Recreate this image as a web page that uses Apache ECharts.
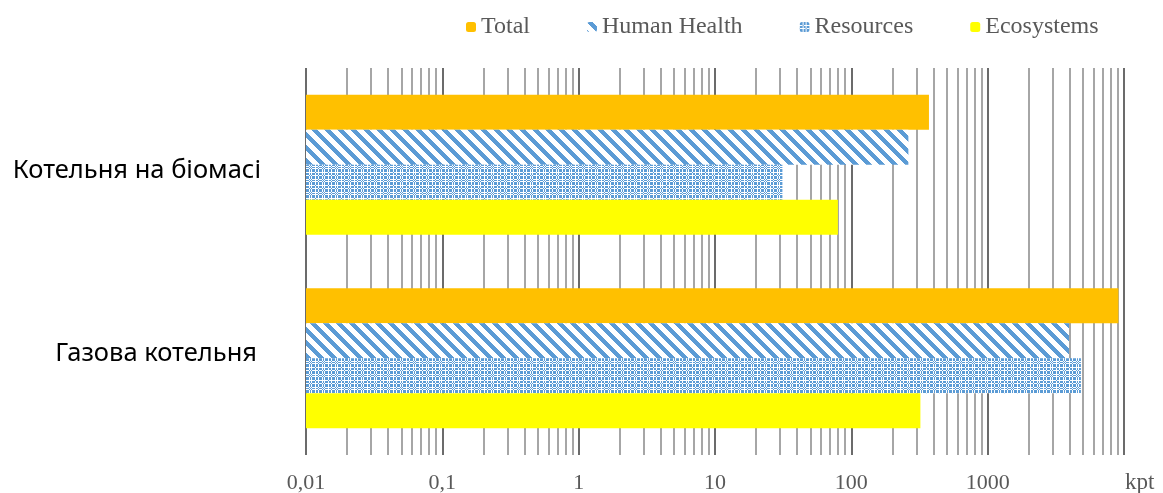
<!DOCTYPE html>
<html>
<head>
<meta charset="utf-8">
<script src="https://cdn.jsdelivr.net/npm/echarts@6/dist/echarts.min.js"></script>
<style>
html,body{margin:0;padding:0;background:#fff;}
#chart{width:1163px;height:493px;}
</style>
</head>
<body>
<div id="chart"></div>
<script>
const categories = ['Котельня на біомасі', 'Газова котельня'];
const seriesNames = ['Total', 'Human Health', 'Resources', 'Ecosystems'];
const totalValues = [371, 9100];
const humanHealthValues = [262, 3950];
const resourcesValues = [31.2, 4830];
const ecosystemsValues = [79.7, 321];
const axisMin = 0.01;
const axisMax = 10000;
const decades = [0.01, 0.1, 1, 10, 100, 1000];
const minorMultipliers = [2, 3, 4, 5, 6, 7, 8, 9];
const axisUnit = 'kpt';

function makePattern(size, fn) {
  const c = document.createElement('canvas');
  c.width = size; c.height = size;
  const ctx = c.getContext('2d');
  ctx.fillStyle = '#ffffff';
  ctx.fillRect(0, 0, size, size);
  ctx.fillStyle = '#5b9bd5';
  for (let y = 0; y < size; y++) {
    for (let x = 0; x < size; x++) {
      if (fn(x, y)) ctx.fillRect(x, y, 1, 1);
    }
  }
  return c;
}
const stripe = makePattern(13, (x, y) => (((x - y) % 13) + 13) % 13 < 6);
const plaidOn = [1, 1, 1, 0, 1, 1, 0, 1, 1, 1, 0, 1, 0];
const checker = makePattern(13, (x, y) => {
  if (plaidOn[x] && plaidOn[y]) return true;
  return (!plaidOn[x] && !plaidOn[y]) && ((x + y) % 2 === 0);
});

const minorLines = [];
decades.forEach(d => minorMultipliers.forEach(m => minorLines.push({ xAxis: +(d * m).toPrecision(6) })));

const chart = echarts.init(document.getElementById('chart'), null, { renderer: 'canvas' });
const serif = 'Liberation Serif';
const baseData = categories.map(() => axisMin);

function barPair(idx, values, color) {
  const stack = 's' + idx;
  return [
    { type: 'bar', stack: stack, data: baseData, barWidth: 35, barGap: '0%', silent: true,
      itemStyle: { color: 'rgba(0,0,0,0)' }, z: 3 },
    { type: 'bar', stack: stack, name: seriesNames[idx], data: values, barWidth: 35, barGap: '0%',
      itemStyle: { color: color }, z: 3 }
  ];
}

chart.setOption({
  animation: false,
  legend: {
    top: 10, left: 461,
    itemWidth: 10, itemHeight: 10, itemGap: 57,
    textStyle: { fontFamily: serif, fontSize: 24, color: '#595959' },
    data: seriesNames
  },
  grid: { left: 306, right: 39, top: 68, bottom: 38, containLabel: false, outerBoundsMode: 'none' },
  xAxis: {
    type: 'log', logBase: 10, min: axisMin, max: axisMax,
    name: axisUnit, nameLocation: 'end', nameGap: 1,
    nameTextStyle: { fontFamily: serif, fontSize: 23, color: '#595959', verticalAlign: 'top', padding: [16, 0, 0, 0] },
    axisLine: { show: false }, axisTick: { show: false },
    axisLabel: {
      fontFamily: serif, fontSize: 22, color: '#595959', margin: 17, showMaxLabel: false,
      formatter: v => String(+(+v).toPrecision(6)).replace('.', ',')
    },
    splitLine: { show: true, lineStyle: { color: '#6b6b6b', width: 2 } }
  },
  yAxis: {
    type: 'category', data: categories, inverse: true,
    axisLine: { show: false }, axisTick: { show: false },
    axisLabel: {
      color: '#000', margin: 45,
      formatter: (v, i) => '{' + (i === 0 ? 'a' : 'b') + '|' + v + '}',
      rich: {
        a: { fontFamily: 'Noto Sans', fontSize: 25.5, color: '#000', padding: [12, 0, 0, 0] },
        b: { fontFamily: 'Noto Sans', fontSize: 25.5, color: '#000', padding: [0, 4, 10, 0] }
      }
    }
  },
  series: [
    {
      type: 'line', data: [], z: 1, silent: true,
      markLine: {
        silent: true, z: 1, symbol: ['none', 'none'], label: { show: false },
        lineStyle: { color: '#a6a6a6', width: 2, type: 'solid' },
        emphasis: { disabled: true },
        data: minorLines
      }
    }
  ].concat(
    barPair(0, totalValues, '#ffc000'),
    barPair(1, humanHealthValues, { image: stripe, repeat: 'repeat' }),
    barPair(2, resourcesValues, { image: checker, repeat: 'repeat' }),
    barPair(3, ecosystemsValues, '#ffff00')
  )
});
</script>
</body>
</html>
